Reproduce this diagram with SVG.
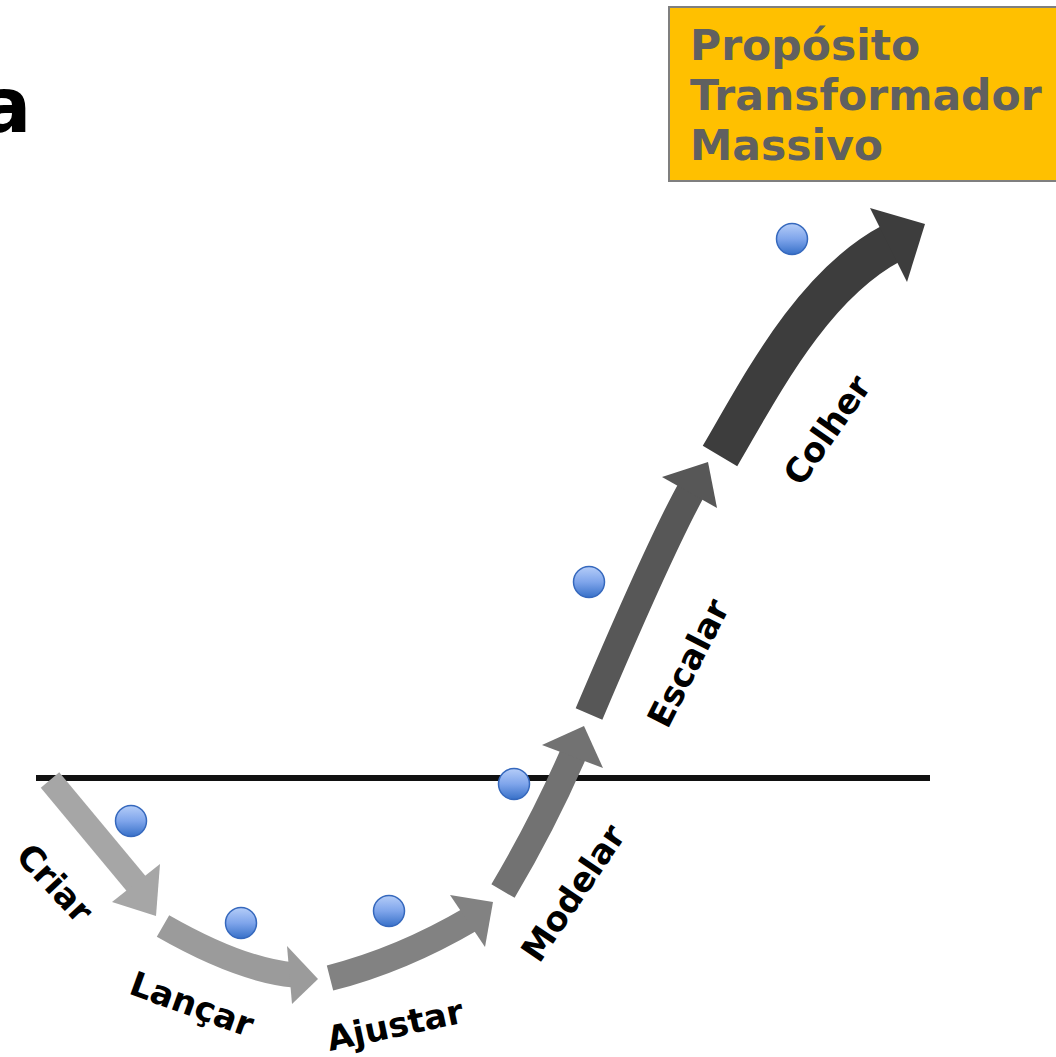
<svg xmlns="http://www.w3.org/2000/svg" width="1056" height="1057" viewBox="0 0 1056 1057">
<defs>
<linearGradient id="dotg" x1="0" y1="0" x2="0" y2="1">
<stop offset="0" stop-color="#b5cdf8"/>
<stop offset="0.5" stop-color="#7fa5eb"/>
<stop offset="1" stop-color="#3770c8"/>
</linearGradient>
</defs>
<style>
.lbl{font-family:"DejaVu Sans",Verdana,sans-serif;font-weight:bold;font-size:34px;fill:#000}
.ptm{font-family:"DejaVu Sans",Verdana,sans-serif;font-weight:bold;font-size:42.5px;fill:#606060}
.dot{fill:url(#dotg);stroke:#3568bd;stroke-width:1.5}
.shaft{fill:none;stroke-linecap:butt}
</style>
<rect width="1056" height="1057" fill="#fff"/>
<text id="title-fragment" x="-20" y="132" font-family="DejaVu Sans, sans-serif" font-weight="bold" font-size="76" fill="#000">a</text>
<g id="ptm">
<rect x="669" y="7" width="400" height="174" fill="#FFC000" stroke="#7f7f7f" stroke-width="2"/>
<text class="ptm" x="690" y="60">Propósito</text>
<text class="ptm" x="690" y="110">Transformador</text>
<text class="ptm" x="690" y="160">Massivo</text>
</g>
<line id="axis" x1="36" y1="778" x2="930" y2="778" stroke="#111" stroke-width="6"/>
<g id="connectors">
<g id="arrow-criar" fill="#a6a6a6">
<path class="shaft" d="M50,780 L139,887" stroke="#a6a6a6" stroke-width="24"/>
<polygon points="112,902 160,864 156,916"/>
</g>
<g id="arrow-lancar" fill="#9b9b9b">
<path class="shaft" d="M163,926 Q240,970 294,975" stroke="#9b9b9b" stroke-width="25"/>
<polygon points="287,946 318,979 292,1004"/>
</g>
<g id="arrow-ajustar" fill="#828282">
<path class="shaft" d="M330,978 Q401,960 471,919" stroke="#828282" stroke-width="26"/>
<polygon points="450,895 493,902 485,947"/>
</g>
<g id="arrow-modelar" fill="#727272">
<path class="shaft" d="M503,891 Q545,820 575,750" stroke="#727272" stroke-width="27"/>
<polygon points="542,745 584,726 603,768"/>
</g>
<g id="arrow-escalar" fill="#575757">
<path class="shaft" d="M589,714 Q662,542 693,487" stroke="#575757" stroke-width="29"/>
<polygon points="662,477 708,462 717,508"/>
</g>
<g id="arrow-colher" fill="#3d3d3d">
<path class="shaft" d="M720,456 C760,388 812,285 892,243" stroke="#3d3d3d" stroke-width="40"/>
<polygon points="870,208 925,224 907,282"/>
</g>
</g>
<g id="dots">
<circle class="dot" cx="131" cy="821" r="15.5"/>
<circle class="dot" cx="241" cy="923" r="15.5"/>
<circle class="dot" cx="389" cy="911" r="15.5"/>
<circle class="dot" cx="514" cy="784" r="15.5"/>
<circle class="dot" cx="589" cy="582" r="15.5"/>
<circle class="dot" cx="792" cy="239" r="15.5"/>
</g>
<g id="labels">
<text id="lbl-criar" class="lbl" text-anchor="middle" transform="translate(55,883) rotate(47)" y="12">Criar</text>
<text id="lbl-lancar" class="lbl" text-anchor="middle" transform="translate(192,1004) rotate(20)" y="12">Lançar</text>
<text id="lbl-ajustar" class="lbl" text-anchor="middle" transform="translate(395,1025) rotate(-12)" y="12">Ajustar</text>
<text id="lbl-modelar" class="lbl" text-anchor="middle" transform="translate(573,893) rotate(-56)" y="12">Modelar</text>
<text id="lbl-escalar" class="lbl" text-anchor="middle" transform="translate(688,663) rotate(-63)" y="12" font-size="35">Escalar</text>
<text id="lbl-colher" class="lbl" text-anchor="middle" transform="translate(827,430) rotate(-55)" y="12">Colher</text>
</g>
</svg>
